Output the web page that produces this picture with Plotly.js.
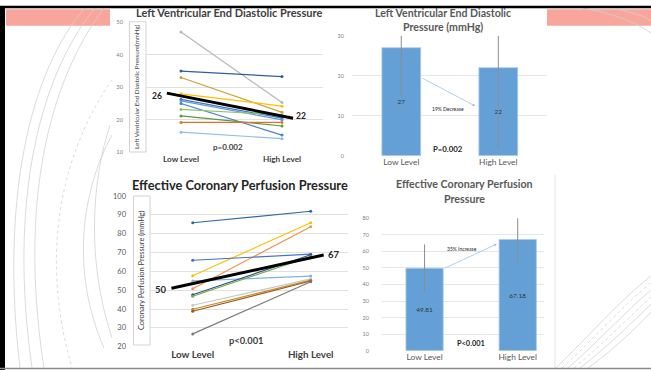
<!DOCTYPE html>
<html><head><meta charset="utf-8">
<script src="https://cdn.plot.ly/plotly-3.0.1.min.js"></script>
<style>html,body{margin:0;padding:0;background:#fff}#chart{width:651px;height:370px}</style>
</head><body><div id="chart"></div>
<script>
// ---------------- DATA ----------------
const levelLabels = ['Low Level', 'High Level'];
const levelPos = [0, 1];

// Panel 1: individual LVEDP (mmHg)
const lvedpLow  = [47, 35, 33, 28, 26.3, 25.8, 25, 23.2, 21.2, 19.2, 16.2];
const lvedpHigh = [25.3, 33.3, 22.3, 24.2, 20.5, 20, 15.3, 21.5, 18.1, 19.2, 14.2];
const lvedpColors = ['#b8b8b8','#2f5f98','#c9a13b','#ffc000','#4472c4','#5b9bd5','#4a7fd0','#8cc46a','#5e9a3a','#e2712b','#8fbfe6'];
const lvedpMeanX = [-0.14, 1.11];
const lvedpMeanY = [28.2, 20.5];
const lvedpMeanText = ['26', '22'];
const lvedpP = 'p=0.002';

// Panel 2: LVEDP bars
const lvedpBar = [27, 22];
const lvedpErr = [12, 20];
const lvedpChange = '19% Decrease';
const lvedpBarP = 'P=0.002';

// Panel 3: individual ECPP (mmHg)
const ecppLow  = [85.8, 57.7, 50.8, 65.9, 54.9, 47.6, 46.8, 42, 39.9, 38.8, 26.8];
const ecppHigh = [91.9, 85.8, 83.7, 69.1, 57.5, 68.8, 67.9, 56, 55.3, 54.9, 54.5];
const ecppColors = ['#2e6da4','#ffc000','#f4914f','#4472c4','#7fb2e5','#2f4f8f','#70ad47','#c8c8c8','#c0902a','#9e5a1a','#7a7a7a'];
const ecppMeanX = [-0.18, 1.11];
const ecppMeanY = [51, 68.7];
const ecppMeanText = ['50', '67'];
const ecppP = 'p<0.001';

// Panel 4: ECPP bars
const ecppBar = [49.81, 67.18];
const ecppErr = [14.4, 14.2];
const ecppChange = '35% Increase';
const ecppBarP = 'P<0.001';

// ---------------- HELPERS ----------------
const W = 651, H = 370;
const FONT = 'Lato, "Open Sans", sans-serif';
const fx = p => p / W;
const fy = p => 1 - p / H;
function pp(str) { // pixel path -> paper path
  return str.replace(/(-?\d+\.?\d*)\s+(-?\d+\.?\d*)/g, (m, a, b) =>
    (parseFloat(a) / W).toFixed(5) + ' ' + (1 - parseFloat(b) / H).toFixed(5));
}

const traces = [];
function lineTraces(low, high, colors, xa, ya) {
  low.forEach((v, i) => traces.push({
    type: 'scatter', mode: 'lines+markers', x: levelPos, y: [v, high[i]],
    xaxis: xa, yaxis: ya, line: { color: colors[i], width: 1.2 },
    marker: { color: colors[i], size: 3 }, hoverinfo: 'skip', showlegend: false
  }));
}
lineTraces(lvedpLow, lvedpHigh, lvedpColors, 'x', 'y');
traces.push({ type: 'scatter', mode: 'lines', x: lvedpMeanX, y: lvedpMeanY, xaxis: 'x', yaxis: 'y',
  line: { color: '#000', width: 3 }, showlegend: false, hoverinfo: 'skip' });
lineTraces(ecppLow, ecppHigh, ecppColors, 'x3', 'y3');
traces.push({ type: 'scatter', mode: 'lines', x: ecppMeanX, y: ecppMeanY, xaxis: 'x3', yaxis: 'y3',
  line: { color: '#000', width: 3 }, showlegend: false, hoverinfo: 'skip' });

function barTrace(vals, errs, xa, ya) {
  return { type: 'bar', x: levelPos, y: vals, xaxis: xa, yaxis: ya, width: 0.4,
    marker: { color: '#64a0d6', line: { color: '#a9c9ea', width: 0.8 } },
    error_y: { type: 'data', array: errs, visible: true, color: '#8c8c8c', thickness: 1, width: 0 },
    text: vals.map(String), textposition: 'inside', insidetextanchor: 'middle', textangle: 0,
    textfont: { family: FONT, size: 6.5, color: '#333' }, showlegend: false, hoverinfo: 'skip' };
}
traces.push(barTrace(lvedpBar, lvedpErr, 'x2', 'y2'));
traces.push(barTrace(ecppBar, ecppErr, 'x4', 'y4'));

function yax(dom, range, size, standoff, color, grid) {
  return { domain: dom, range: range, dtick: 10, tick0: 0, showgrid: true, gridcolor: grid, gridwidth: 1,
    zeroline: false, showline: false, ticks: '', ticklabelstandoff: standoff,
    tickfont: { family: FONT, size: size, color: color }, fixedrange: true };
}
function xax(dom, range, anchor, size, weight, color) {
  return { domain: dom, range: range, anchor: anchor, tickvals: levelPos, ticktext: levelLabels,
    showgrid: false, zeroline: false, showline: false, ticks: '',
    tickfont: { family: FONT, size: size, weight: weight, color: color }, fixedrange: true };
}

const ann = [];
function txt(x, y, text, size, weight, color, extra) {
  ann.push(Object.assign({ x: x, y: y, xref: 'paper', yref: 'paper', text: text, showarrow: false,
    xanchor: 'center', yanchor: 'middle', font: { family: FONT, size: size, weight: weight, color: color } }, extra || {}));
}
// titles
txt(fx(229), fy(13), 'Left Ventricular End Diastolic Pressure', 11, 700, '#404040');
txt(fx(443), fy(19.8), 'Left Ventricular End Diastolic', 10.6, 700, '#595959', { yanchor: 'bottom', borderpad: 0 });
txt(fx(443), fy(19.8), 'Pressure (mmHg)', 10.6, 700, '#595959', { yanchor: 'top', borderpad: 0 });
txt(fx(240), fy(185), 'Effective Coronary Perfusion Pressure', 12.8, 700, '#262626');
txt(fx(464), fy(190.8), 'Effective Coronary Perfusion', 10.7, 700, '#595959', { yanchor: 'bottom', borderpad: 0 });
txt(fx(464), fy(190.8), 'Pressure', 10.7, 700, '#595959', { yanchor: 'top', borderpad: 0 });
// axis titles (rotated)
txt(fx(136), fy(87), 'Left Ventricular End Diastolic Pressure(mmHg)', 6.2, 400, '#404040', { textangle: -90 });
txt(fx(141), fy(270), 'Coronary Perfusion Pressure (mmHg)', 7.4, 400, '#404040', { textangle: -90 });
// mean labels
ann.push({ x: -0.24, y: 27.3, xref: 'x', yref: 'y', text: lvedpMeanText[0], showarrow: false, font: { family: FONT, size: 8.5, weight: 700, color: '#262626' } });
ann.push({ x: 1.19, y: 21.3, xref: 'x', yref: 'y', text: lvedpMeanText[1], showarrow: false, font: { family: FONT, size: 8.5, weight: 700, color: '#262626' } });
ann.push({ x: -0.27, y: 50.2, xref: 'x3', yref: 'y3', text: ecppMeanText[0], showarrow: false, font: { family: FONT, size: 9.5, weight: 700, color: '#262626' } });
ann.push({ x: 1.2, y: 68.7, xref: 'x3', yref: 'y3', text: ecppMeanText[1], showarrow: false, font: { family: FONT, size: 9.5, weight: 700, color: '#262626' } });
// p values
txt(fx(228), fy(146.7), lvedpP, 8, 700, '#404040');
txt(fx(246), fy(340.7), ecppP, 9.3, 700, '#404040');
txt(fx(448), fy(149), lvedpBarP, 7.8, 700, '#262626');
txt(fx(471), fy(343.3), ecppBarP, 7.4, 700, '#262626');
// change texts
ann.push({ x: 0.485, y: 11.8, xref: 'x2', yref: 'y2', text: lvedpChange, showarrow: false, font: { family: FONT, size: 5, color: '#262626' } });
ann.push({ x: 0.406, y: 61.4, xref: 'x4', yref: 'y4', text: ecppChange, showarrow: false, font: { family: FONT, size: 5, color: '#262626' } });
// arrows
ann.push({ x: 0.763, y: 12.4, ax: 0.2, ay: 19.6, xref: 'x2', yref: 'y2', axref: 'x2', ayref: 'y2', text: '',
  showarrow: true, arrowhead: 2, arrowsize: 0.7, arrowwidth: 0.8, arrowcolor: '#9dc3e6' });
ann.push({ x: 0.776, y: 64.5, ax: 0.2, ay: 49.4, xref: 'x4', yref: 'y4', axref: 'x4', ayref: 'y4', text: '',
  showarrow: true, arrowhead: 2, arrowsize: 0.7, arrowwidth: 0.8, arrowcolor: '#9dc3e6' });

// decorative shapes
const shapes = [];
const salmon = '#f8a59b';
shapes.push({ type: 'rect', xref: 'paper', yref: 'paper', x0: fx(6), x1: fx(110), y0: fy(25.7), y1: fy(9.3), fillcolor: salmon, line: { width: 0 }, layer: 'below' });
shapes.push({ type: 'rect', xref: 'paper', yref: 'paper', x0: fx(547), x1: fx(651), y0: fy(25.7), y1: fy(9.3), fillcolor: salmon, line: { width: 0 }, layer: 'below' });
const arcs = [
  ['M 85 8 C 30 70, 0 200, 20 368', 'solid'],
  ['M 95 8 C 40 75, 8 200, 32 368', 'solid'],
  ['M 104 8 C 50 80, 18 200, 44 368', 'solid'],
  ['M 112 80 C 70 140, 35 240, 72 368', 'dash'],
  ['M 112 135 C 82 190, 70 270, 104 348', 'solid'],
  ['M 110 125 C 92 180, 86 260, 112 338', 'solid'],
  ['M 556 368 C 590 335, 620 300, 651 276', 'solid'],
  ['M 562 368 C 595 338, 622 306, 651 283', 'dash'],
  ['M 568 368 C 600 340, 625 312, 651 290', 'solid'],
  ['M 574 368 C 604 343, 628 318, 651 297', 'dash'],
  ['M 580 368 C 608 346, 631 324, 651 304', 'solid'],
  ['M 588 368 C 613 350, 634 330, 651 312', 'solid'],
  ['M 583 8 C 610 13, 632 20, 651 33', 'solid'],
  ['M 617 9 C 630 12, 641 15, 651 20', 'solid']
];
arcs.forEach(a => shapes.push({ type: 'path', xref: 'paper', yref: 'paper', path: pp(a[0]),
  line: { color: '#d2d2d2', width: 0.8, dash: a[1] === 'dash' ? 'dot' : 'solid' }, layer: 'below' }));
// y-axis title boxes
shapes.push({ type: 'rect', xref: 'paper', yref: 'paper', x0: fx(129.5), x1: fx(146), y0: fy(152), y1: fy(21.7), line: { color: '#c8c8c8', width: 0.8 }, fillcolor: 'rgba(0,0,0,0)', layer: 'below' });
shapes.push({ type: 'rect', xref: 'paper', yref: 'paper', x0: fx(133.5), x1: fx(150), y0: fy(345), y1: fy(196), line: { color: '#c8c8c8', width: 0.8 }, fillcolor: 'rgba(0,0,0,0)', layer: 'below' });
// hide error-bar overflow above the top of panel 2's plot area (plot area clipping)
shapes.push({ type: 'rect', xref: 'paper', yref: 'paper', x0: fx(352), x1: fx(547), y0: fy(35.3), y1: fy(27), fillcolor: '#fff', line: { width: 0 }, layer: 'above' });
// separators / borders
shapes.push({ type: 'line', xref: 'paper', yref: 'paper', x0: fx(555), x1: fx(555), y0: fy(175), y1: fy(368), line: { color: '#e3e3e3', width: 1 } });
shapes.push({ type: 'line', xref: 'paper', yref: 'paper', x0: 0, x1: 1, y0: fy(7), y1: fy(7), line: { color: '#000', width: 2.5 } });
shapes.push({ type: 'rect', xref: 'paper', yref: 'paper', x0: 0, x1: fx(5), y0: 0, y1: fy(6), fillcolor: '#000', line: { width: 0 } });
shapes.push({ type: 'line', xref: 'paper', yref: 'paper', x0: 0, x1: 1, y0: fy(368.5), y1: fy(368.5), line: { color: '#8a8a8a', width: 1.5 } });

const layout = {
  width: W, height: H, margin: { l: 0, r: 0, t: 0, b: 0 }, paper_bgcolor: '#fff', plot_bgcolor: 'rgba(0,0,0,0)',
  showlegend: false, font: { family: FONT },
  xaxis: xax([fx(146), fx(323)], [-0.3465, 1.406], 'y', 8.2, 700, '#404040'),
  yaxis: yax([fy(152.3), fy(22.3)], [10, 50], 5.8, 22, '#7f7f7f', '#e0e0e0'),
  xaxis2: xax([fx(352), fx(547)], [-0.508, 1.502], 'y2', 8.4, 400, '#595959'),
  yaxis2: yax([fy(155.7), fy(35.7)], [0, 30], 5.5, 7, '#7f7f7f', '#e6e6e6'),
  xaxis3: xax([fx(150), fx(348)], [-0.362, 1.316], 'y3', 9.8, 700, '#404040'),
  yaxis3: yax([fy(346.7), fy(196)], [20, 100], 7.5, 23, '#595959', '#e0e0e0'),
  xaxis4: xax([fx(382), fx(544)], [-0.457, 1.282], 'y4', 8.4, 400, '#595959'),
  yaxis4: yax([fy(350.7), fy(218.3)], [0, 80], 5.5, 12, '#7f7f7f', '#e6e6e6'),
  annotations: ann, shapes: shapes
};
layout.yaxis.anchor = 'x'; layout.yaxis2.anchor = 'x2'; layout.yaxis3.anchor = 'x3'; layout.yaxis4.anchor = 'x4';
Plotly.newPlot('chart', traces, layout, { staticPlot: true, displayModeBar: false });
</script>
</body></html>
